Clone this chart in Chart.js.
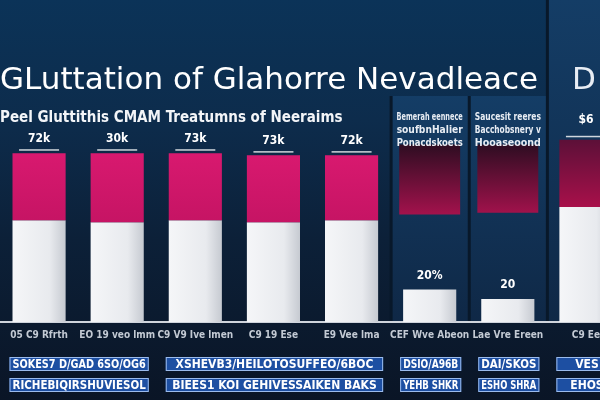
<!DOCTYPE html>
<html>
<head>
<meta charset="utf-8">
<script src="https://cdn.jsdelivr.net/npm/chart.js@4.4.1/dist/chart.umd.min.js"></script>
<style>
html, body { margin: 0; padding: 0; background: #0b1e34; overflow: hidden; }
canvas { display: block; }
</style>
</head>
<body>
<!-- the last bar runs off the right edge, as in the picture -->
<canvas id="myChart" width="625" height="400"></canvas>
<script>
// data
const categories = ['05 C9 Rfrth', 'EO 19 veo lmm', 'C9 V9 Ive lmen', 'C9 19 Ese', 'E9 Vee lma', 'CEF Wve Abeon', 'Lae Vre Ereen', 'C9 Ee'];
const baseValues = [53, 52, 53, 52, 53, 17, 12, 60];
const topValues = [88, 88, 88, 87, 87, null, null, 95];
const blockLow = [null, null, null, null, null, 56, 57, null];
const blockHigh = [null, null, null, null, null, 92.5, 92.5, null];
const valueLabels = ['72k', '30k', '73k', '73k', '72k', '20%', '20', '$6'];
const panelNotes = [
	['Bemerah eennece', 'soufbnHalier', 'Ponacdskoets'],
	['Saucesit reeres', 'Bacchobsnery v', 'Hooaseoond']
];
const tagGroups = [[0, 1], [2, 4], [5, 5], [6, 6], [7, 7]];
const tagRowA = ['SOKES7 D/GAD 6SO/OG6', 'XSHEVB3/HEILOTOSUFFEO/6BOC', 'DSIO/A96B', 'DAI/SKOS', 'VES'];
const tagRowB = ['RICHEBIQIRSHUVIESOL', 'BIEES1 KOI GEHIVESSAIKEN BAKS', 'YEHB SHKR', 'ESHO SHRA', 'EHOS'];

const narrow = "'Liberation Sans Narrow', 'DejaVu Sans Condensed', sans-serif";
const barPct = 0.68;

const backdrop = {
	id: 'backdrop',
	beforeDraw: function(chart) {
		const ctx = chart.ctx;
		const w = chart.width, h = chart.height;
		const g = ctx.createLinearGradient(0, 0, 0, h);
		g.addColorStop(0, '#0b3358');
		g.addColorStop(0.3, '#0d2c4c');
		g.addColorStop(0.6, '#0c2038');
		g.addColorStop(1, '#0a1526');
		ctx.save();
		ctx.fillStyle = g;
		ctx.fillRect(0, 0, w, h);

		// lighter panels behind the last three categories
		const x = chart.scales.x;
		const step = x.getPixelForValue(1) - x.getPixelForValue(0);
		const bottom = chart.chartArea.bottom;
		[5, 6, 7].forEach(function(i) {
			const cx = x.getPixelForValue(i);
			const top = (i == 7) ? 0 : 96;
			const pg = ctx.createLinearGradient(0, top, 0, bottom);
			pg.addColorStop(0, '#143d66');
			pg.addColorStop(1, '#0f2846');
			ctx.fillStyle = pg;
			ctx.fillRect(cx - step / 2, top, step, bottom - top);
			ctx.fillStyle = '#08182a';
			ctx.fillRect(cx - step / 2 - 1, top, 3, bottom - top);
		});
		ctx.restore();
	},
	afterDraw: function(chart) {
		const ctx = chart.ctx;
		const x = chart.scales.x;
		const step = x.getPixelForValue(1) - x.getPixelForValue(0);
		const whites = chart.getDatasetMeta(0).data;
		const pinks = chart.getDatasetMeta(1).data;
		ctx.save();
		ctx.textAlign = 'center';
		ctx.textBaseline = 'middle';

		// value labels
		ctx.fillStyle = '#ffffff';
		ctx.font = 'bold 12px ' + narrow;
		valueLabels.forEach(function(lbl, i) {
			const bar = (topValues[i] != null) ? pinks[i] : whites[i];
			const top = bar.y;
			const up = (i == 7) ? 20 : 14;
			ctx.fillText(lbl, bar.x, top - up);
			if (i < 5 || i == 7) {
				ctx.fillStyle = 'rgba(255,255,255,0.8)';
				ctx.fillRect(bar.x - 20, top - 4, 40, 1.5);
				ctx.fillStyle = '#ffffff';
			}
		});

		// notes inside the panels
		ctx.font = 'bold 11px ' + narrow;
		ctx.fillStyle = '#e8edf4';
		panelNotes.forEach(function(lines, k) {
			const cx = x.getPixelForValue(5 + k);
			lines.forEach(function(t, j) {
				ctx.fillText(t, cx, 117 + j * 13, step - 12);
			});
		});

		// title fragment cut at the right edge
		ctx.textAlign = 'left';
		ctx.font = "31px 'DejaVu Sans', sans-serif";
		ctx.fillText('D', 572, 81);

		// tag rows
		ctx.textAlign = 'center';
		ctx.font = 'bold 12px ' + narrow;
		[tagRowA, tagRowB].forEach(function(row, r) {
			const y = 357 + r * 21;
			tagGroups.forEach(function(gr, k) {
				const a = whites[gr[0]], b = whites[gr[1]];
				const x0 = a.x - a.width / 2 - 3;
				const x1 = b.x + b.width / 2 + 5;
				ctx.fillStyle = '#1d4fa2';
				ctx.fillRect(x0, y, x1 - x0, 14);
				ctx.strokeStyle = '#9bbbec';
				ctx.lineWidth = 1;
				ctx.strokeRect(x0 + 0.5, y + 0.5, x1 - x0 - 1, 13);
				ctx.fillStyle = '#ffffff';
				ctx.fillText(row[k], (x0 + x1) / 2, y + 7.5, x1 - x0 - 6);
			});
		});
		ctx.restore();
	}
};

function blockColor(context) {
	const chart = context.chart;
	if (!chart.chartArea) return '#7a1040';
	const y = chart.scales.y;
	const g = chart.ctx.createLinearGradient(0, y.getPixelForValue(92.5), 0, y.getPixelForValue(56));
	g.addColorStop(0, '#2e0d22');
	g.addColorStop(1, '#a3124c');
	return g;
}

function whiteColor(context) {
	const chart = context.chart;
	if (!chart.chartArea || context.dataIndex == null) return '#e9ebef';
	const x = chart.scales.x;
	const step = x.getPixelForValue(1) - x.getPixelForValue(0);
	const cx = x.getPixelForValue(context.dataIndex);
	const half = step * barPct / 2;
	if (!isFinite(cx) || !isFinite(half)) return '#e9ebef';
	const g = chart.ctx.createLinearGradient(cx - half, 0, cx + half, 0);
	g.addColorStop(0, '#f5f6f8');
	g.addColorStop(0.7, '#e8eaee');
	g.addColorStop(1, '#c6cad1');
	return g;
}

function pinkColor(context) {
	const chart = context.chart;
	const i = context.dataIndex;
	if (!chart.chartArea || i == null || topValues[i] == null) return '#d2166b';
	const y = chart.scales.y;
	const g = chart.ctx.createLinearGradient(0, y.getPixelForValue(topValues[i]), 0, y.getPixelForValue(baseValues[i]));
	if (i == 7) {
		g.addColorStop(0, '#5c1038');
		g.addColorStop(1, '#a8104a');
	} else {
		g.addColorStop(0, '#d8196f');
		g.addColorStop(1, '#c61464');
	}
	return g;
}

var ctx = document.getElementById('myChart');
var myChart = new Chart(ctx, {
	type: 'bar',
	data: {
		labels: categories,
		datasets: [{
			label: 'base',
			data: baseValues,
			backgroundColor: whiteColor,
			borderWidth: 0,
			grouped: false,
			barPercentage: barPct,
			categoryPercentage: 1,
			order: 2
		},
		{
			label: 'top',
			data: topValues.map(function(t, i) { return t == null ? null : [baseValues[i], t]; }),
			backgroundColor: pinkColor,
			borderWidth: 0,
			grouped: false,
			barPercentage: barPct,
			categoryPercentage: 1,
			order: 1
		},
		{
			label: 'block',
			data: blockLow.map(function(l, i) { return l == null ? null : [l, blockHigh[i]]; }),
			backgroundColor: blockColor,
			borderWidth: 0,
			grouped: false,
			barPercentage: 0.78,
			categoryPercentage: 1,
			order: 3
		}]
	},
	options: {
		responsive: false,
		animation: false,
		layout: { padding: { top: 0, left: 0, right: 0, bottom: 52 } },
		plugins: {
			legend: { display: false },
			tooltip: { enabled: false },
			title: {
				display: true,
				text: 'GLuttation of Glahorre Nevadleace',
				align: 'start',
				color: '#ffffff',
				font: { family: "'DejaVu Sans', sans-serif", size: 31, weight: 'normal' },
				padding: { top: 62, bottom: 0 }
			},
			subtitle: {
				display: true,
				text: 'Peel Gluttithis CMAM Treatumns of Neeraims',
				align: 'start',
				color: '#f3f5f8',
				font: { family: narrow, size: 15, weight: 'bold' },
				padding: { top: 10, bottom: 3 }
			}
		},
		scales: {
			x: {
				offset: true,
				grid: { display: false, drawTicks: false },
				border: { display: true, color: '#cfd4dc', width: 2 },
				ticks: {
					color: '#c3cad4',
					font: { family: narrow, size: 10, weight: 'bold' },
					padding: 7,
					autoSkip: false,
					maxRotation: 0
				}
			},
			y: { display: false, min: 0, max: 100 }
		}
	},
	plugins: [backdrop]
});
</script>
</body>
</html>
